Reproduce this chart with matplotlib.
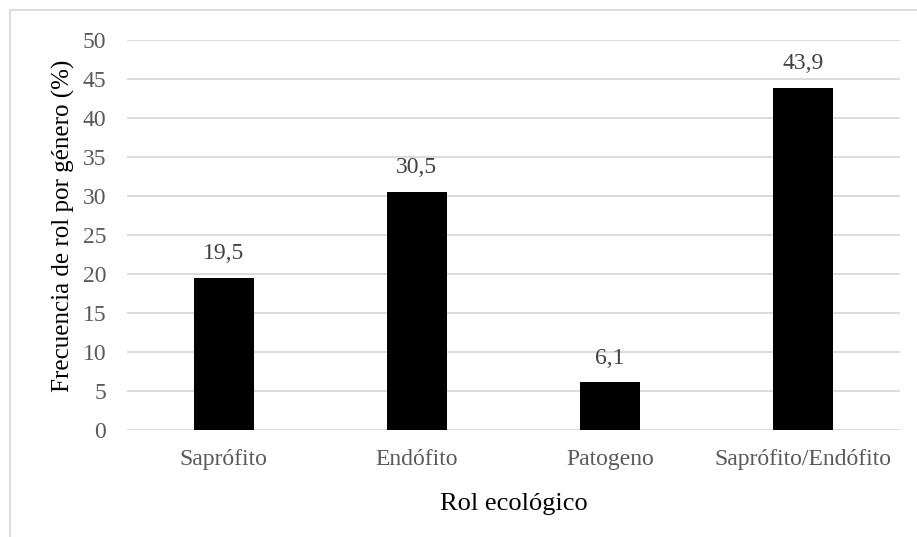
import matplotlib
matplotlib.use("Agg")
import matplotlib.pyplot as plt
from matplotlib.patches import Rectangle

categories = ["Saprófito", "Endófito", "Patogeno", "Saprófito/Endófito"]
values = [19.5, 30.5, 6.1, 43.9]
value_labels = ["19,5", "30,5", "6,1", "43,9"]
y_ticks = [0, 5, 10, 15, 20, 25, 30, 35, 40, 45, 50]

plt.rcParams["font.family"] = ["Liberation Serif", "DejaVu Serif"]

W, H = 917, 537
fig = plt.figure(figsize=(W / 100, H / 100), dpi=100)
ax = fig.add_axes([127 / W, 1 - 430 / H, (900 - 127) / W, (430 - 40) / H])

# chart frame
fig.patches.append(Rectangle((10 / W, -0.1), 1.2, 1 - 10 / H + 0.1,
                             transform=fig.transFigure, fill=False,
                             edgecolor="#d9d9d9", linewidth=1.3))

x = range(len(categories))
ax.bar(x, values, width=0.31, color="black", zorder=3)
for xi, v, lab in zip(x, values, value_labels):
    ax.annotate(lab, (xi, v), xytext=(0, 10), textcoords="offset points",
                ha="center", va="bottom", fontsize=17, color="#404040")

ax.set_xlim(-0.5, len(categories) - 0.5)
ax.set_ylim(0, 50)
ax.set_yticks(y_ticks)
ax.set_yticklabels([str(t) for t in y_ticks])
ax.set_xticks(list(x))
ax.set_xticklabels(categories)
ax.tick_params(axis="both", length=0, labelsize=17, labelcolor="#595959")
ax.tick_params(axis="x", pad=14)
ax.tick_params(axis="y", pad=15)
ax.yaxis.grid(True, color="#d9d9d9", linewidth=1.3, zorder=0)
for s in ax.spines.values():
    s.set_visible(False)
ax.set_axisbelow(True)

ax.set_xlabel("Rol ecológico", fontsize=19, color="black", labelpad=16)
ax.set_ylabel("Frecuencia de rol por género (%)", fontsize=18, color="black")
ax.yaxis.set_label_coords(-0.067, 0.523)

fig.savefig("out.png", dpi=100, facecolor="white")
